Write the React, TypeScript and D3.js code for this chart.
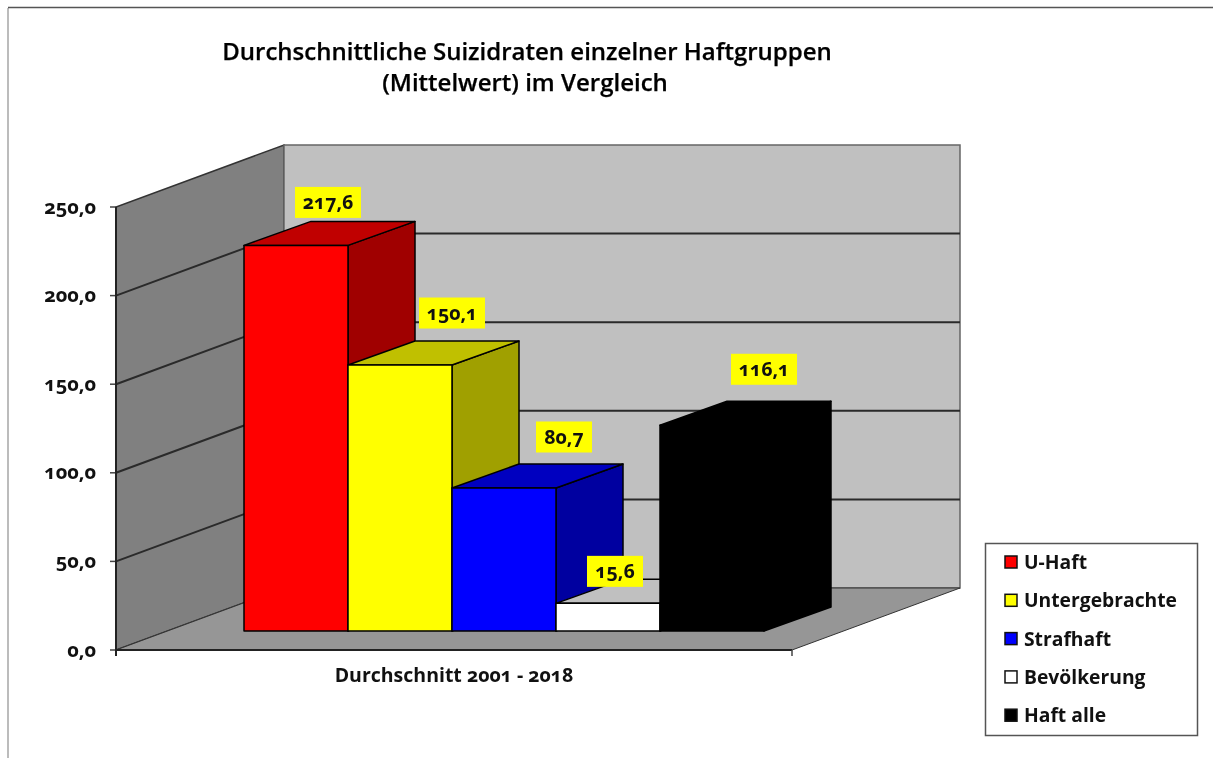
import React from "react";
import * as d3 from "d3";

const seriesNames = ["U-Haft", "Untergebrachte", "Strafhaft", "Bevölkerung", "Haft alle"];
const seriesValues = [217.6, 150.1, 80.7, 15.6, 116.1];
const valueLabels = ["217,6", "150,1", "80,7", "15,6", "116,1"];
const yTicks = [0, 50, 100, 150, 200, 250];
const categoryLabel = "Durchschnitt 2001 - 2018";
const titleLines = ["Durchschnittliche Suizidraten einzelner Haftgruppen", "(Mittelwert) im Vergleich"];

const frontColors = ["#ff0000", "#ffff00", "#0000ff", "#ffffff", "#000000"];
const topColors = ["#c00000", "#c0c000", "#0000c0", "#c0c0c0", "#000000"];
const sideColors = ["#a00000", "#a0a000", "#0000a0", "#a0a0a0", "#000000"];
const labelShift = [[32, -43], [52, -52], [60, -51], [7, -32], [52, -56]];

const FONT = "'Open Sans', 'Noto Sans', sans-serif";
const left = 116, right = 792, wallDx = 168, wallDy = -62, barDx = 67, barDy = -24;
const y = d3.scaleLinear().domain([0, 250]).range([650, 207]);
const x = d3.scaleBand<string>().domain(seriesNames).range([244, 764]);
const barBaseShift = -19;
const fmt = (v: number) => v.toFixed(1).replace(".", ",");
const poly = (pts: number[][]) => pts.map((p) => p.join(",")).join(" ");
const textStyle: React.CSSProperties = { fontFamily: FONT, fontWeight: 700, fontFeatureSettings: '"onum"' };

export default function App() {
  const y0 = y(0);
  return (
    <svg width={1213} height={758} style={{ position: "absolute", left: 0, top: 0, background: "#fff", filter: "blur(0.45px)" }}>
      <line x1={8} x2={8} y1={8} y2={758} stroke="#a6a6a6" strokeWidth={1.5} />
      <line x1={8} x2={1213} y1={7.5} y2={7.5} stroke="#555" strokeWidth={1.5} />

      {titleLines.map((t, i) => (
        <text key={t} x={i === 0 ? 527 : 525} y={60 + i * 30.5} textAnchor="middle" fontSize={24} fill="#000" stroke="#000" strokeWidth={0.25} style={{ ...textStyle, fontWeight: 600 }}>{t}</text>
      ))}

      {/* walls */}
      <polygon points={poly([[left, y(0)], [left, y(250)], [left + wallDx, y(250) + wallDy], [left + wallDx, y(0) + wallDy]])} fill="#808080" stroke="#333" strokeWidth={1.5} />
      <polygon points={poly([[left + wallDx, y(250) + wallDy], [right + wallDx, y(250) + wallDy], [right + wallDx, y(0) + wallDy], [left + wallDx, y(0) + wallDy]])} fill="#c0c0c0" stroke="#666" strokeWidth={1.5} />
      <polygon points={poly([[left, y0], [right, y0], [right + wallDx, y0 + wallDy], [left + wallDx, y0 + wallDy]])} fill="#969696" stroke="#333" strokeWidth={1} />

      {yTicks.map((t) => (
        <g key={t}>
          {t > 0 && t < 250 && <polyline points={poly([[left, y(t)], [left + wallDx, y(t) + wallDy], [right + wallDx, y(t) + wallDy]])} fill="none" stroke="#2a2a2a" strokeWidth={2} />}
          <line x1={110} x2={left} y1={y(t)} y2={y(t)} stroke="#444" strokeWidth={1.5} />
          <text x={96} y={y(t) + 6.5} textAnchor="end" fontSize={20} fill="#111" style={textStyle}>{fmt(t)}</text>
        </g>
      ))}

      <line x1={left} x2={left} y1={y(250)} y2={y0 + 6} stroke="#222" strokeWidth={2} />
      <line x1={left} x2={right} y1={y0} y2={y0} stroke="#222" strokeWidth={2} />
      <line x1={right} x2={right} y1={y0} y2={y0 + 6} stroke="#444" strokeWidth={1.5} />

      {/* bars */}
      {seriesNames.map((n, i) => {
        const x0 = x(n)!, w = x.bandwidth();
        const bot = y(0) + barBaseShift, top = y(seriesValues[i]) + barBaseShift;
        const s = { stroke: "#000", strokeWidth: 1.5, strokeLinejoin: "round" as const };
        return (
          <g key={n}>
            <polygon points={poly([[x0 + w, bot], [x0 + w, top], [x0 + w + barDx, top + barDy], [x0 + w + barDx, bot + barDy]])} fill={sideColors[i]} {...s} />
            <polygon points={poly([[x0, top], [x0 + w, top], [x0 + w + barDx, top + barDy], [x0 + barDx, top + barDy]])} fill={topColors[i]} {...s} />
            <rect x={x0} y={top} width={w} height={bot - top} fill={frontColors[i]} {...s} />
          </g>
        );
      })}

      {/* value labels */}
      {seriesNames.map((n, i) => {
        const cx = x(n)! + x.bandwidth() / 2 + labelShift[i][0];
        const cy = y(seriesValues[i]) + barBaseShift + labelShift[i][1];
        const bw = valueLabels[i].length === 5 ? 66 : 56;
        return (
          <g key={n}>
            <rect x={cx - bw / 2} y={cy - 15.5} width={bw} height={31} fill="#ffff00" />
            <text x={cx} y={cy + 7} textAnchor="middle" fontSize={19.5} fill="#111" style={textStyle}>{valueLabels[i]}</text>
          </g>
        );
      })}

      <text x={454} y={682} textAnchor="middle" fontSize={19.5} fill="#111" style={textStyle}>{categoryLabel}</text>

      {/* legend */}
      <rect x={985.5} y={543.5} width={212} height={192} fill="#fff" stroke="#555" strokeWidth={1.5} />
      {seriesNames.map((n, i) => (
        <g key={n}>
          <rect x={1005} y={556 + i * 38.3} width={12} height={12} fill={frontColors[i]} stroke="#111" strokeWidth={1.5} />
          <text x={1024} y={569 + i * 38.3} fontSize={19.3} fill="#111" style={textStyle}>{n}</text>
        </g>
      ))}
    </svg>
  );
}
